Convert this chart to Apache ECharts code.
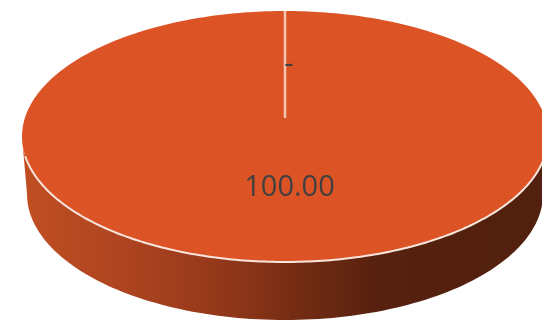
<!DOCTYPE html>
<html>
<head>
<meta charset="utf-8">
<style>html,body{margin:0;padding:0;background:#fff}#c{width:542px;height:320px}</style>
<script src="https://cdn.jsdelivr.net/npm/echarts@6/dist/echarts.min.js"></script>
</head>
<body>
<div id="c"></div>
<script>
var categories = ['A', 'B'];
var seriesValues = [100, 0];
var labelTexts = ['100.00', '-'];

var total = seriesValues.reduce(function (a, b) { return a + b; }, 0);
var top3d = { cx: 285, cy: 136.5, rx: 263, ry: 125.5, hubY: 118 };
var low3d = { cx: 285, cy: 194, rx: 258, ry: 126 };
var labelPos = [[289.5, 187.5], [289, 65]];

function ring(e, a0, a1, n) {
  var pts = [];
  for (var i = 0; i <= n; i++) {
    var a = a0 + (a1 - a0) * i / n;
    pts.push([e.cx + e.rx * Math.sin(a), e.cy - e.ry * Math.cos(a)]);
  }
  return pts;
}

var chart = echarts.init(document.getElementById('c'), null, { renderer: 'canvas' });
chart.setOption({
  animation: false,
  backgroundColor: '#fff',
  series: [{
    type: 'custom',
    coordinateSystem: 'none',
    silent: true,
    data: seriesValues.map(function (v, i) { return [i, v]; }),
    renderItem: function (params, api) {
      var idx = api.value(0), val = api.value(1);
      var before = 0;
      for (var k = 0; k < idx; k++) before += seriesValues[k];
      var a0 = before / total * Math.PI * 2;
      var a1 = (before + val) / total * Math.PI * 2;
      var children = [];
      if (val > 0) {
        var sideA = ring(top3d, Math.PI / 2, Math.PI * 1.5, 120);
        var sideB = ring(low3d, Math.PI / 2, Math.PI * 1.5, 120).reverse();
        var sideEdge = [[top3d.cx + top3d.rx, top3d.cy]].concat(sideA, [[top3d.cx - top3d.rx, top3d.cy]]);
        children.push({
          type: 'polygon',
          shape: { points: sideEdge.concat(sideB) },
          style: {
            fill: new echarts.graphic.LinearGradient(0, 0, 1, 0, [
              { offset: 0, color: '#C04E22' },
              { offset: 0.2, color: '#AD4420' },
              { offset: 0.38, color: '#93381A' },
              { offset: 0.52, color: '#752C13' },
              { offset: 0.68, color: '#56210F' },
              { offset: 1, color: '#52200E' }
            ])
          }
        });
        children.push({
          type: 'polygon',
          shape: { points: [[top3d.cx, top3d.hubY]].concat(ring(top3d, a0, a1, 360)) },
          style: { fill: '#DC5426' }
        });
        // pale front rim of the disc
        children.push({
          type: 'polyline',
          shape: { points: ring(top3d, Math.PI * 0.55, Math.PI * 1.45, 180) },
          style: { fill: null, stroke: '#F8E6DE', lineWidth: 2 }
        });
        // pale seam from the rim to the hub, at the slice boundary
        var rimStart = ring(top3d, a0, a0, 1)[0];
        children.push({
          type: 'line',
          shape: { x1: rimStart[0], y1: rimStart[1], x2: top3d.cx, y2: top3d.hubY },
          style: { stroke: '#F2C6B2', lineWidth: 2.5 }
        });
      }
      children.push({
        type: 'text',
        z2: 10,
        style: {
          x: labelPos[idx][0], y: labelPos[idx][1],
          text: labelTexts[idx],
          fill: '#404040',
          font: '29px "Open Sans", sans-serif',
          align: 'center', verticalAlign: 'middle'
        }
      });
      return { type: 'group', children: children };
    }
  }]
});
</script>
</body>
</html>
